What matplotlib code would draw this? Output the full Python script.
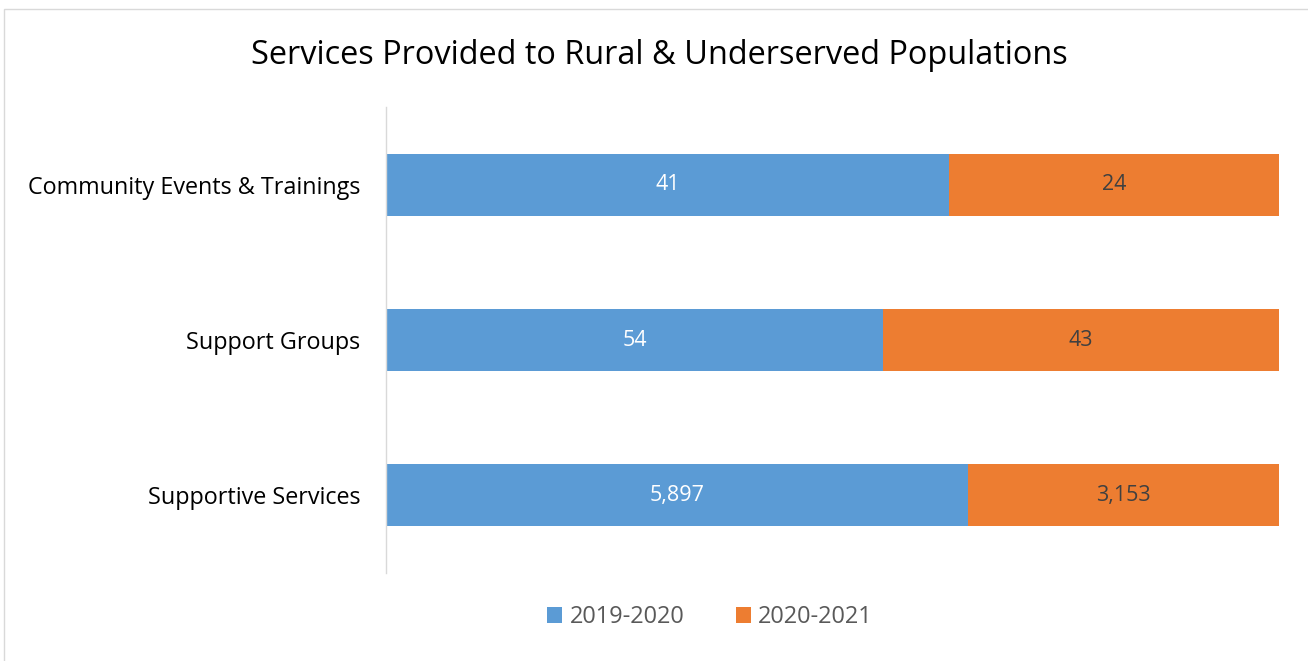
import matplotlib
matplotlib.use("Agg")
import matplotlib.pyplot as plt
from matplotlib.patches import Rectangle
import numpy as np

categories = ["Community Events & Trainings", "Support Groups", "Supportive Services"]
series_names = ["2019-2020", "2020-2021"]
values_2019 = [41, 54, 5897]
values_2020 = [24, 43, 3153]
colors = ["#5B9BD5", "#ED7D31"]

plt.rcParams['font.family'] = ['Open Sans', 'DejaVu Sans']

W, H = 1308, 661
fig = plt.figure(figsize=(W/100, H/100), dpi=100)
fig.patch.set_facecolor("white")
fig.add_artist(Rectangle((4/W, -0.05), 1.1, 1.05 - 9/H, transform=fig.transFigure,
                         fill=False, edgecolor="#D9D9D9", linewidth=1.0))

ax = fig.add_axes([386/W, 1 - 573/H, 893/W, 466/H])
a = np.array(values_2019, float)
b = np.array(values_2020, float)
tot = a + b
pa = a / tot
pb = b / tot
y = np.arange(len(categories))
ax.barh(y, pa, height=0.4, color=colors[0], label=series_names[0])
ax.barh(y, pb, left=pa, height=0.4, color=colors[1], label=series_names[1])
for i in range(len(categories)):
    ax.text(pa[i]/2, y[i], f"{values_2019[i]:,}", ha="center", va="center",
            color="white", fontsize=15.5)
    ax.text(pa[i] + pb[i]/2, y[i], f"{values_2020[i]:,}", ha="center", va="center",
            color="#404040", fontsize=15.5)
ax.set_xlim(0, 1)
ax.set_ylim(2.5, -0.5)
ax.set_yticks(y)
ax.set_yticklabels(categories, fontsize=16.8, color="#000000")
ax.tick_params(axis="y", length=0, pad=18.5)
ax.set_xticks([])
for s in ["top", "right", "bottom"]:
    ax.spines[s].set_visible(False)
ax.spines["left"].set_color("#D9D9D9")
ax.spines["left"].set_linewidth(1.0)

fig.text(659/W, 1 - 56/H, "Services Provided to Rural & Underserved Populations",
         ha="center", va="center", fontsize=23.4, color="#000000")

leg = fig.legend(loc="center", bbox_to_anchor=(710/W, 1 - 617/H), ncol=2, frameon=False,
                 fontsize=16.9, handlelength=0.65, handleheight=0.65, columnspacing=2.2,
                 handletextpad=0.3)
for t in leg.get_texts():
    t.set_color("#595959")

fig.savefig("out.png", dpi=100)
